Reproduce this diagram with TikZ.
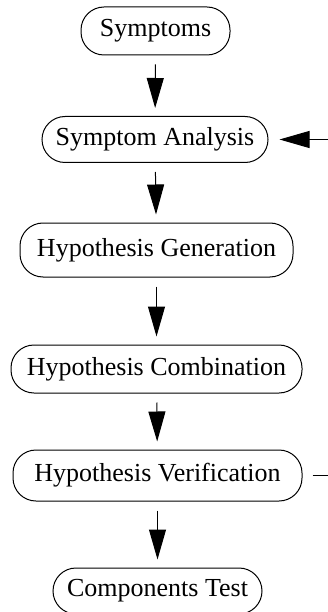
\documentclass[tikz,border=0pt]{standalone}
\usepackage{fontspec}
\setmainfont{Liberation Serif}
\usetikzlibrary{arrows.meta}
\begin{document}
\begin{tikzpicture}[x=1pt,y=1pt,
  box/.style={draw, line width=1pt, rounded corners=23pt, inner sep=0pt,
    font=\fontsize{26}{30}\selectfont},
  flow/.style={-{Triangle[length=30pt,width=17pt]}, line width=1pt},
  down/.style={flow, shorten <=9pt, shorten >=8pt}]
\useasboundingbox (0,0) rectangle (328,-612);
\clip (0,0) rectangle (328,-612);
\node[box, minimum width=149pt, minimum height=48pt] (s)  at (155.5,-31)  {Symptoms};
\node[box, minimum width=226pt, minimum height=46pt] (sa) at (155,-139.5) {Symptom Analysis};
\node[box, minimum width=273pt, minimum height=54pt] (hg) at (156.5,-250) {Hypothesis Generation};
\node[box, minimum width=291pt, minimum height=48pt] (hc) at (156.5,-369) {Hypothesis Combination};
\node[box, minimum width=289pt, minimum height=51pt] (hv) at (157.5,-475.5) {Hypothesis Verification};
\node[box, minimum width=209pt, minimum height=46pt] (ct) at (157.5,-591) {Components Test};
\draw[down] (s) -- (sa);
\draw[down] (sa) -- (hg);
\draw[down] (hg) -- (hc);
\draw[down] (hc) -- (hv);
\draw[down] (hv) -- (ct);
\draw[flow, shorten <=10pt, shorten >=11pt] (hv.east) -- ++(40,0) |- (sa.east);
\end{tikzpicture}
\end{document}
